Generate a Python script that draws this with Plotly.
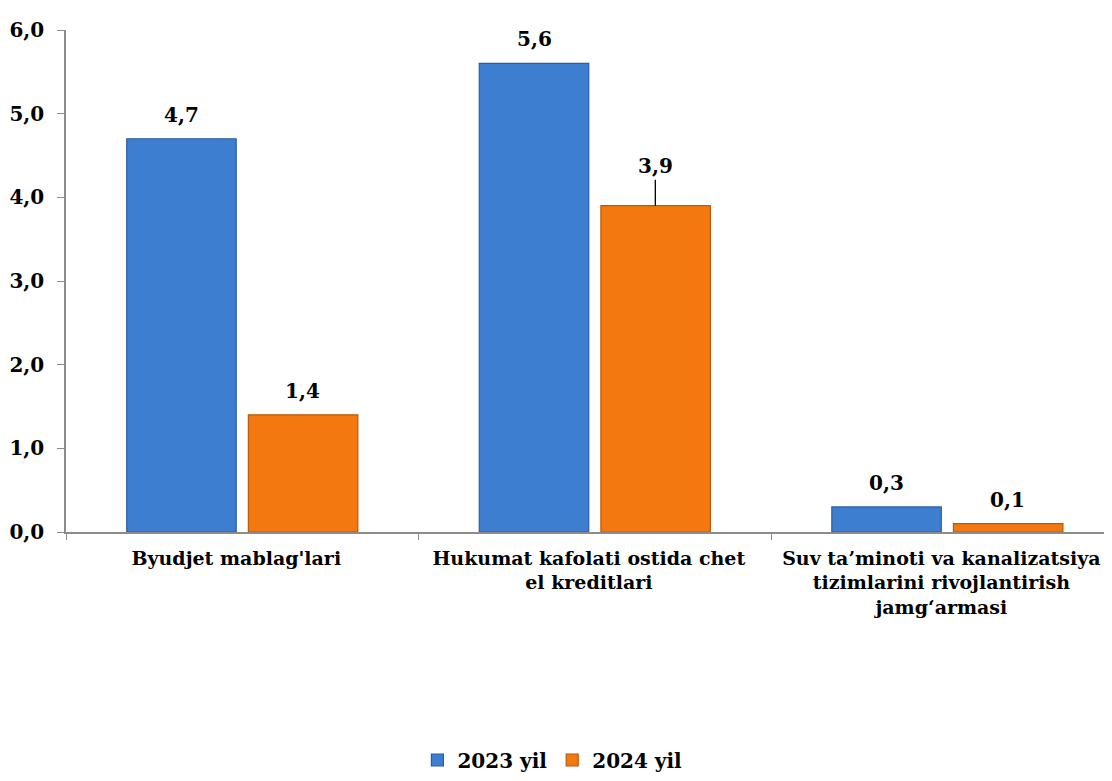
import plotly.graph_objects as go

categories = [
    "Byudjet mablag'lari",
    "Hukumat kafolati ostida chet<br>el kreditlari",
    "Suv ta’minoti va kanalizatsiya<br>tizimlarini rivojlantirish<br>jamg‘armasi",
]
series_names = ["2023 yil", "2024 yil"]
values_2023 = [4.7, 5.6, 0.3]
values_2024 = [1.4, 3.9, 0.1]
y_ticks = [0, 1, 2, 3, 4, 5, 6]
y_tick_labels = ["0,0", "1,0", "2,0", "3,0", "4,0", "5,0", "6,0"]

FONT = "DejaVu Serif"
BLUE = "#3E7ED0"
BLUE_EDGE = "#2C5E9E"
ORANGE = "#F2780F"
ORANGE_EDGE = "#B85A0A"
AXIS_GREY = "#8c8c8c"
SIZE = 20


def fmt(v):
    return f"{v:.1f}".replace(".", ",")


fig = go.Figure()
for i, (name, vals, col, edge) in enumerate([
    (series_names[0], values_2023, BLUE, BLUE_EDGE),
    (series_names[1], values_2024, ORANGE, ORANGE_EDGE),
]):
    fig.add_trace(go.Bar(
        x=categories, y=vals, name=name,
        marker=dict(color=col, line=dict(color=edge, width=1.2)),
        offsetgroup=str(i),
    ))

# value labels above bars (one of them sits on a short leader line)
offsets = [-0.5, 0.5]
for s, vals in enumerate([values_2023, values_2024]):
    for c, v in enumerate(vals):
        leader = (s == 1 and c == 1)
        fig.add_annotation(
            x=c, y=v, xref="x", yref="y",
            xshift=offsets[s] * 121,
            text=f"<b>{fmt(v)}</b>",
            showarrow=leader, arrowhead=0, arrowwidth=1.3, arrowcolor="black",
            ax=0, ay=-26, standoff=0,
            yanchor="bottom", yshift=0 if leader else 10,
            font=dict(family=FONT, size=SIZE, color="black"),
        )

# last category runs a little past the right edge, as in the source
fig.update_xaxes(
    type="category", automargin=False, range=[-0.5, 2.467],
    showline=True, linecolor=AXIS_GREY, linewidth=1.5,
    ticks="outside", tickson="boundaries", ticklen=6, tickcolor=AXIS_GREY,
    ticklabelstandoff=8, ticklabelshift=-6,
    tickfont=dict(family=FONT, size=19, color="black", weight="bold"),
    showgrid=False,
)
fig.update_yaxes(
    range=[0, 6], automargin=False,
    tickvals=y_ticks, ticktext=y_tick_labels,
    showline=True, linecolor=AXIS_GREY, linewidth=1.5,
    ticks="outside", ticklen=7, tickcolor=AXIS_GREY,
    ticklabelstandoff=9,
    tickfont=dict(family=FONT, size=SIZE, color="black", weight="bold"),
    showgrid=False, zeroline=False,
)
fig.update_layout(
    width=1104, height=765,
    plot_bgcolor="white", paper_bgcolor="white",
    barmode="group", bargap=0.31, bargroupgap=0.1,
    margin=dict(l=58, r=0, t=22, b=241),
    font=dict(family=FONT, size=SIZE, color="black"),
    legend=dict(
        orientation="h", x=0.465, xanchor="center",
        yref="container", y=0.017, yanchor="middle",
        font=dict(family=FONT, size=SIZE, color="black", weight="bold"),
        itemwidth=30,
    ),
)
fig.write_html("out.html")
